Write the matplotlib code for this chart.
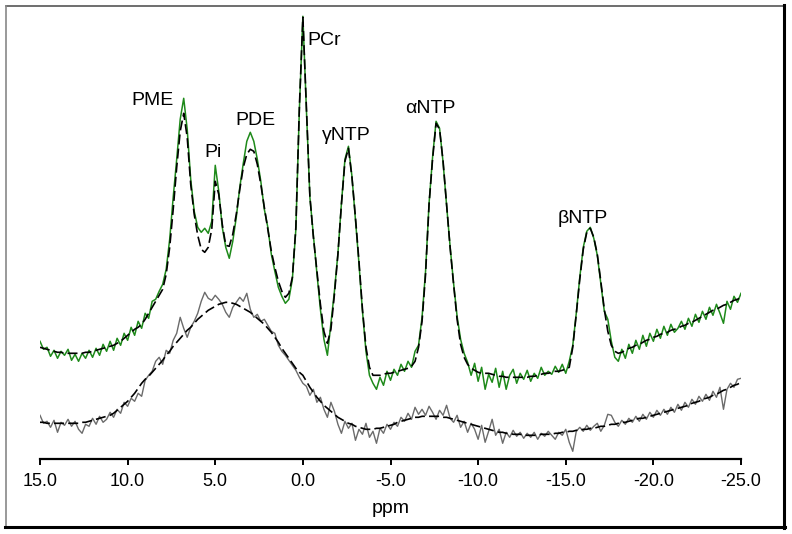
import numpy as np
import matplotlib
matplotlib.use("Agg")
import matplotlib.pyplot as plt
from matplotlib.lines import Line2D

plt.rcParams['font.family'] = ['Liberation Sans', 'DejaVu Sans']
plt.rcParams['axes.unicode_minus'] = False

# chemical shift axis, 0.2 ppm sampling from 15 to -25 ppm
ppm = np.linspace(15.0, -25.0, 201)

# upper trace: measured spectrum (green) and its fit (dashed)
spec = [
    118, 110, 112, 103, 109, 101, 108, 104, 110, 99,    # 15.0 .. 13.2
    105, 98, 106, 101, 109, 102, 111, 104, 115, 108,    # 13.0 .. 11.2
    118, 109, 121, 114, 126, 119, 132, 124, 138, 131,   # 11.0 .. 9.2
    146, 141, 158, 160, 168, 175, 190, 220, 262, 300,   # 9.0 .. 7.2
    340, 361, 330, 280, 248, 232, 227, 231, 226, 238,   # 7.0 .. 5.2
    294, 268, 232, 212, 201, 218, 242, 272, 296, 318,   # 5.0 .. 3.2
    327, 318, 300, 278, 250, 232, 205, 188, 172, 163,   # 3.0 .. 1.2
    156, 160, 180, 230, 350, 443, 350, 262, 224, 186,   # 1.0 .. -0.8
    150, 120, 104, 136, 168, 206, 256, 300, 313, 283,   # -1.0 .. -2.8
    240, 196, 148, 108, 84, 76, 70, 82, 74, 88,         # -3.0 .. -4.8
    79, 90, 84, 95, 88, 98, 92, 108, 114, 142,          # -5.0 .. -6.8
    188, 256, 302, 338, 331, 297, 254, 213, 176, 143,   # -7.0 .. -8.8
    120, 106, 97, 84, 96, 78, 92, 70, 85, 77,           # -9.0 .. -10.8
    91, 72, 88, 70, 84, 90, 76, 86, 80, 89,             # -11.0 .. -12.8
    78, 86, 81, 92, 84, 88, 85, 93, 87, 95,             # -13.0 .. -14.8
    86, 98, 114, 146, 182, 212, 228, 232, 221, 204,     # -15.0 .. -16.8
    176, 148, 140, 118, 102, 98, 110, 101, 115, 106,    # -17.0 .. -18.8
    119, 110, 124, 113, 126, 118, 130, 121, 133, 124,   # -19.0 .. -20.8
    135, 127, 131, 138, 130, 141, 133, 145, 137, 148,   # -21.0 .. -22.8
    140, 152, 144, 155, 146, 136, 158, 150, 163, 157,   # -23.0 .. -24.8
    166,
]
spec_fit = [
    112, 111, 110, 109, 108, 107, 107, 106, 106, 106,
    106, 106, 106, 107, 107, 108, 109, 110, 111, 112,
    113, 114, 116, 118, 121, 124, 127, 130, 132, 135,
    140, 146, 152, 158, 164, 170, 185, 212, 250, 292,
    328, 346, 322, 275, 245, 224, 210, 207, 212, 230,
    278, 265, 235, 214, 213, 225, 245, 270, 292, 305,
    310, 308, 295, 275, 252, 230, 208, 192, 178, 168,
    162, 166, 182, 232, 352, 442, 352, 263, 222, 188,
    155, 128, 116, 130, 165, 205, 255, 298, 311, 282,
    242, 198, 150, 112, 92, 84, 84, 84, 85, 86,
    86, 87, 88, 89, 90, 91, 93, 98, 112, 138,
    185, 255, 300, 336, 330, 298, 255, 212, 175, 140,
    115, 102, 95, 91, 89, 87, 86, 86, 86, 85,
    84, 83, 83, 82, 82, 82, 82, 82, 82, 82,
    83, 83, 84, 85, 86, 86, 87, 88, 88, 89,
    90, 92, 112, 145, 180, 210, 227, 231, 222, 205,
    178, 150, 128, 114, 108, 106, 107, 109, 111, 112,
    114, 115, 117, 119, 120, 122, 123, 125, 126, 127,
    129, 130, 131, 133, 134, 136, 137, 139, 141, 143,
    145, 147, 149, 150, 152, 154, 155, 157, 159, 160,
    162,
]

# lower trace: broad component (grey) and its fit (dashed)
broad = [
    44, 36, 38, 32, 39, 27, 37, 34, 40, 33,
    38, 30, 26, 35, 33, 41, 35, 43, 37, 40,
    47, 42, 50, 46, 57, 53, 61, 58, 66, 63,
    79, 84, 88, 98, 102, 95, 109, 106, 119, 126,
    142, 131, 122, 132, 138, 146, 158, 167, 161, 159,
    164, 160, 155, 147, 142, 152, 157, 162, 158, 166,
    150, 142, 145, 138, 140, 134, 128, 126, 114, 108,
    104, 99, 94, 89, 82, 76, 73, 64, 70, 57,
    62, 50, 42, 57, 48, 35, 26, 38, 31, 36,
    19, 30, 25, 36, 22, 28, 16, 31, 26, 35,
    30, 37, 33, 42, 38, 46, 40, 52, 45, 50,
    44, 53, 47, 40, 49, 44, 54, 41, 37, 44,
    32, 38, 27, 36, 30, 20, 34, 17, 28, 40,
    24, 30, 16, 27, 22, 29, 23, 27, 21, 26,
    22, 27, 20, 26, 23, 28, 24, 20, 27, 24,
    30, 17, 8, 28, 32, 28, 34, 29, 33, 36,
    28, 34, 45, 44, 37, 33, 39, 35, 41, 37,
    43, 38, 45, 40, 47, 42, 49, 44, 50, 45,
    52, 47, 55, 49, 57, 52, 60, 55, 63, 58,
    65, 59, 68, 62, 72, 50, 70, 76, 72, 80,
    81,
]
broad_fit = [
    37, 37, 36, 36, 36, 36, 36, 36, 36, 36,
    36, 36, 37, 37, 38, 39, 40, 41, 42, 43,
    44, 46, 49, 52, 55, 58, 62, 66, 71, 76,
    80, 83, 87, 91, 95, 99, 104, 108, 113, 117,
    121, 125, 129, 132, 136, 140, 143, 146, 149, 151,
    153, 155, 156, 157, 157, 156, 155, 153, 151, 149,
    147, 144, 141, 138, 135, 131, 127, 122, 117, 111,
    106, 101, 96, 91, 87, 84, 78, 72, 67, 62,
    58, 54, 51, 48, 45, 42, 40, 38, 36, 35,
    33, 32, 31, 30, 30, 30, 31, 31, 32, 33,
    34, 35, 37, 38, 39, 40, 41, 42, 42, 43,
    43, 43, 43, 43, 43, 42, 42, 41, 40, 39,
    38, 37, 36, 35, 34, 33, 32, 31, 30, 29,
    28, 27, 27, 26, 26, 25, 25, 25, 24, 24,
    24, 24, 24, 25, 25, 25, 25, 26, 26, 27,
    27, 28, 28, 29, 29, 30, 30, 31, 31, 32,
    33, 33, 34, 35, 35, 36, 37, 37, 38, 39,
    40, 41, 41, 42, 43, 44, 45, 46, 47, 48,
    49, 50, 51, 52, 53, 54, 56, 57, 58, 60,
    61, 62, 64, 65, 67, 69, 70, 72, 74, 75,
    77,
]

peak_names = ['PME', 'Pi', 'PDE', 'PCr', 'γNTP', 'αNTP', 'βNTP']
peak_ppm = [8.6, 5.13, 2.73, -1.2, -2.46, -7.25, -15.98]
peak_h = [354, 302, 334, 414, 319, 346, 236]

green = '#1e8a1a'
grey = '#6b6b6b'

fig = plt.figure(figsize=(7.92, 5.34), dpi=100)
ax = fig.add_axes([40 / 792, (534 - 459.3) / 534, 701 / 792, 449.3 / 534])

ax.plot(ppm, spec, color=green, lw=1.1)
ax.plot(ppm, spec_fit, color='black', lw=1.2, dashes=(6, 2.5))
ax.plot(ppm, broad, color=grey, lw=1.0)
ax.plot(ppm, broad_fit, color='black', lw=1.2, dashes=(6, 2.5))

for name, xp, yp in zip(peak_names, peak_ppm, peak_h):
    ax.text(xp, yp, name, ha='center', va='baseline', fontsize=14)

ax.set_xlim(15, -25)
ax.set_ylim(0, 449.3)
ax.set_xticks(np.arange(15, -26, -5))
ax.set_xticklabels(['%.1f' % t for t in np.arange(15, -26, -5)])
ax.set_yticks([])
for s in ['left', 'right', 'top']:
    ax.spines[s].set_visible(False)
ax.spines['bottom'].set_linewidth(1.6)
ax.tick_params(axis='x', direction='out', length=4, width=1.4, labelsize=13, pad=6)
ax.set_xlabel('ppm', fontsize=14, labelpad=7)
ax.patch.set_alpha(0)

# frame around the figure: thin grey top/left, heavy black right/bottom
W, H = 792, 534
fig.add_artist(Line2D([5.5 / W, 784 / W], [1 - 5.5 / H, 1 - 5.5 / H], color='#555555', lw=1.2))
fig.add_artist(Line2D([5.5 / W, 5.5 / W], [1 - 5.5 / H, 1 - 527 / H], color='#888888', lw=1.2))
fig.add_artist(Line2D([784 / W, 784 / W], [1 - 5 / H, 1 - 528 / H], color='black', lw=2.2))
fig.add_artist(Line2D([5 / W, 785 / W], [1 - 527 / H, 1 - 527 / H], color='black', lw=2.2))

fig.savefig('out.png', dpi=100)
